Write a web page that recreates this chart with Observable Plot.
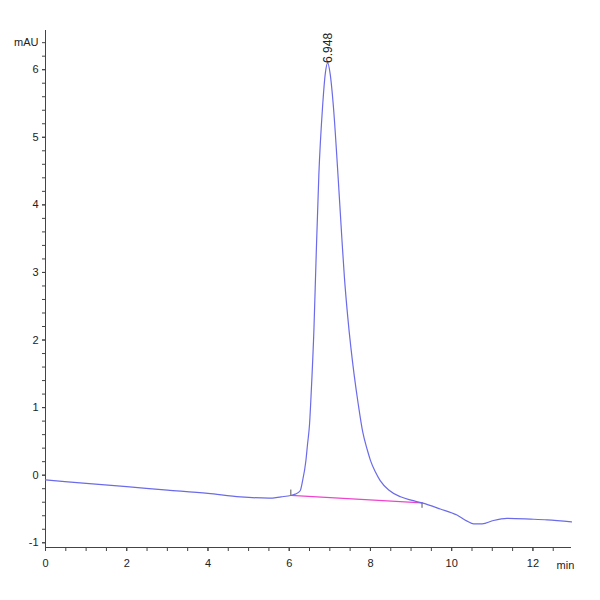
<!DOCTYPE html>
<html><head><meta charset="utf-8">
<script src="https://cdn.jsdelivr.net/npm/d3@7"></script>
<script src="https://cdn.jsdelivr.net/npm/@observablehq/plot@0.6"></script>
<style>body{margin:0;background:#fff}#chart{width:600px;height:600px}</style>
</head><body><div id="chart"></div>
<script>
// Chromatogram trace (retention time in min, absorbance in mAU)
const times = [0, 1, 2, 3, 4, 4.8, 5.5, 5.8, 6.04, 6.15, 6.27, 6.33, 6.41, 6.45, 6.50, 6.54, 6.61, 6.66, 6.73, 6.82, 6.89, 6.948, 7.01, 7.09, 7.20, 7.30, 7.36, 7.44, 7.52, 7.60, 7.70, 7.81, 7.92, 8.00, 8.12, 8.24, 8.45, 8.74, 9.00, 9.27, 9.72, 10.13, 10.38, 10.54, 10.75, 11.03, 11.36, 11.94, 12.35, 12.95];
const signal = [-0.07, -0.12, -0.17, -0.22, -0.27, -0.32, -0.34, -0.32, -0.30, -0.28, -0.23, -0.08, 0.21, 0.45, 0.75, 1.20, 2.18, 3.17, 4.45, 5.44, 5.95, 6.10, 5.93, 5.44, 4.45, 3.47, 2.92, 2.35, 1.88, 1.48, 1.05, 0.64, 0.38, 0.22, 0.05, -0.08, -0.22, -0.32, -0.37, -0.41, -0.50, -0.59, -0.68, -0.72, -0.72, -0.67, -0.64, -0.65, -0.66, -0.69];

// Integration baseline
const baselineTimes = [6.04, 9.27];
const baselineValues = [-0.30, -0.41];

// Peak annotation
const peakTimes = [6.948];
const peakHeights = [6.10];
const peakLabels = ["6.948"];

// Axis ticks and units
const xMajorTicks = [0, 2, 4, 6, 8, 10, 12];
const xMinorTicks = d3.range(0, 13, 0.5);
const yMajorTicks = [-1, 0, 1, 2, 3, 4, 5, 6];
const yMinorTicks = d3.range(-5, 33).map(i => i / 5);
const xUnit = "min";
const yUnit = "mAU";

const xDomain = [0, 12.95];
const yDomain = [-1.07, 6.58];

const trace = times.map((t, i) => ({t, v: signal[i]}));
const baseline = baselineTimes.map((t, i) => ({t, v: baselineValues[i]}));
const peaks = peakTimes.map((t, i) => ({t, v: peakHeights[i], label: peakLabels[i]}));
const markers = [
  {t: baselineTimes[0], v1: baselineValues[0], v2: baselineValues[0] + 0.08},
  {t: baselineTimes[1], v1: baselineValues[1], v2: baselineValues[1] - 0.08}
];

const axisColor = "#444";
const font = "'Liberation Sans Narrow', 'Liberation Sans', Arial, sans-serif";

const chart = Plot.plot({
  width: 600,
  height: 600,
  marginLeft: 45,
  marginTop: 30,
  marginRight: 29,
  marginBottom: 53,
  style: {fontFamily: font, fontSize: "11px", color: "#222", background: "#fff"},
  x: {domain: xDomain, axis: null},
  y: {domain: yDomain, axis: null},
  marks: [
    Plot.ruleX([xDomain[0]], {stroke: axisColor}),
    Plot.ruleY([yDomain[0]], {stroke: axisColor}),
    Plot.axisX({ticks: xMinorTicks, tickSize: 4, tickFormat: () => "", label: null, stroke: axisColor}),
    Plot.axisX({ticks: xMajorTicks, tickSize: 4, tickPadding: 8, tickFormat: d => String(d), label: null, stroke: axisColor, fill: "#222"}),
    Plot.axisY({ticks: yMinorTicks, tickSize: 3, tickFormat: () => "", label: null, stroke: axisColor}),
    Plot.axisY({ticks: yMajorTicks, tickSize: 3, tickPadding: 4, tickFormat: d => String(d), label: null, stroke: axisColor, fill: "#222"}),
    Plot.text([{t: xDomain[0], v: 6.4, label: yUnit}], {x: "t", y: "v", text: "label", dx: -7, textAnchor: "end", fill: "#222"}),
    Plot.text([{t: 12.8, v: yDomain[0], label: xUnit}], {x: "t", y: "v", text: "label", dy: 18, textAnchor: "middle", fill: "#222"}),
    Plot.line(baseline, {x: "t", y: "v", stroke: "#ee44cc", strokeWidth: 1.2}),
    Plot.ruleX(markers, {x: "t", y1: "v1", y2: "v2", stroke: "#555", strokeWidth: 1}),
    Plot.line(trace, {x: "t", y: "v", stroke: "#6b6bea", strokeWidth: 1.2, curve: "monotone-x"}),
    Plot.text(peaks, {x: "t", y: "v", text: "label", rotate: -90, textAnchor: "start", lineAnchor: "middle", fontSize: 12, fontFamily: "'Liberation Sans', Arial, sans-serif", fill: "#222"})
  ]
});
document.getElementById("chart").appendChild(chart);
</script>
</body></html>
